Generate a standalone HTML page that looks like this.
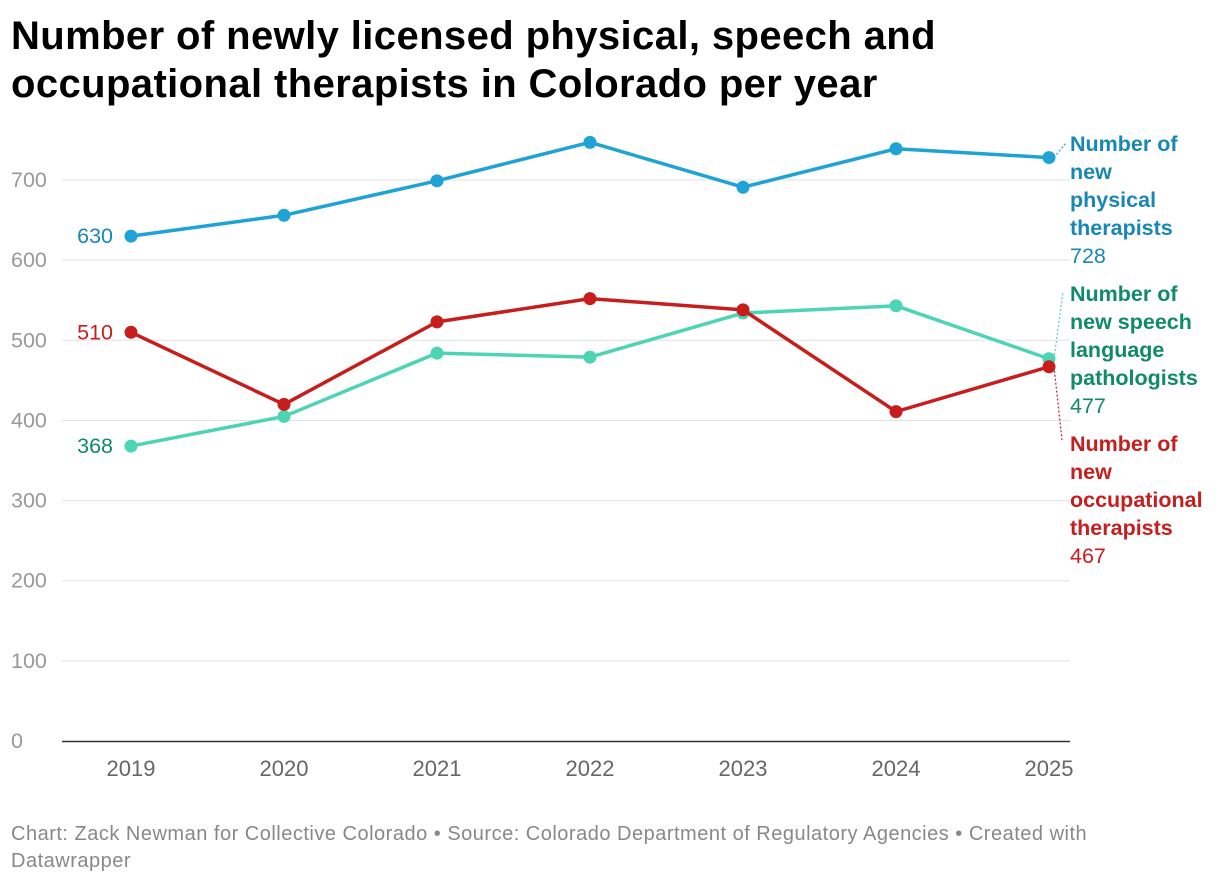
<!DOCTYPE html>
<html><head><meta charset="utf-8"><style>
body{margin:0;background:#fff;width:1220px;height:884px;overflow:hidden;font-family:"Liberation Sans",sans-serif}
h1{position:absolute;left:11px;top:12px;margin:0;font-size:40px;line-height:48px;font-weight:bold;color:#000;letter-spacing:0.4px}
.foot{position:absolute;left:11px;top:821px;font-size:20px;line-height:27px;color:#888;letter-spacing:0.5px}
</style></head><body>
<h1>Number of newly licensed physical, speech and<br>occupational therapists in Colorado per year</h1>
<svg id="chart" width="1220" height="884" style="position:absolute;left:0;top:0"></svg>
<div class="foot">Chart: Zack Newman for Collective Colorado • Source: Colorado Department of Regulatory Agencies • Created with<br>Datawrapper</div>
<script>
const years=[2019,2020,2021,2022,2023,2024,2025];
const yTicks=[0,100,200,300,400,500,600,700];
const physical=[630,656,699,747,691,739,728];
const speech=[368,405,484,479,534,543,477];
const occupational=[510,420,523,552,538,411,467];
const svg=document.getElementById('chart');
const NS='http://www.w3.org/2000/svg';
const x=i=>131+i*153;
const y=v=>741-v*0.8014;
function mk(t,a,p){const e=document.createElementNS(NS,t);for(const k in a)e.setAttribute(k,a[k]);(p||svg).appendChild(e);return e;}
yTicks.forEach(v=>{
  if(v>0){const l=mk('line',{x1:62,x2:1070,y1:y(v),y2:y(v),stroke:'#e3e3e3','stroke-width':1});
  
  }
  const t=mk('text',{x:11,y:y(v)+7,'font-size':21.5,fill:'#999'});t.textContent=v;
  
  
});
const ax=mk('line',{x1:62,x2:1070,y1:741.5,y2:741.5,stroke:'#333','stroke-width':1.5});


years.forEach((yr,i)=>{
  const t=mk('text',{x:x(i),y:776,'font-size':22,fill:'#666','text-anchor':'middle'});t.textContent=yr;
  
  
});
function series(vals,line,lab,name,endLines,endY,lead){
  const g=mk('g',{});
  
  
  mk('polyline',{points:vals.map((v,i)=>x(i)+','+y(v)).join(' '),fill:'none',stroke:line,'stroke-width':3.5,'stroke-linejoin':'round'},g);
  vals.forEach((v,i)=>{const c=mk('circle',{cx:x(i),cy:y(v),r:6.5,fill:line},g);
    
    });
  const s=mk('text',{x:113,y:y(vals[0])+7,'font-size':21.5,fill:lab,'text-anchor':'end'},g);s.textContent=vals[0];
  
  
  mk('line',{x1:x(6)+5,y1:y(vals[6]),x2:lead[0],y2:lead[1],stroke:line,'stroke-width':1.2,'stroke-dasharray':'2,2'},g);
  const t=mk('text',{x:1070,y:endY,'font-size':21.5,fill:lab},g);
  
  
  endLines.forEach((l,k)=>{const ts=mk('tspan',{x:1070,dy:k?28:0,'font-weight':'bold'},t);ts.textContent=l;});
  const vt=mk('tspan',{x:1070,dy:28},t);vt.textContent=vals[6];
}
series(physical,'#1fa3d6','#1787b5','physical',['Number of','new','physical','therapists'],151,[1066,143]);
series(speech,'#4dd4b3','#0f8a6a','speech',['Number of','new speech','language','pathologists'],301,[1063,292]);
series(occupational,'#c71e1d','#c71e1d','occupational',['Number of','new','occupational','therapists'],451,[1062,440]);
</script>
</body></html>
